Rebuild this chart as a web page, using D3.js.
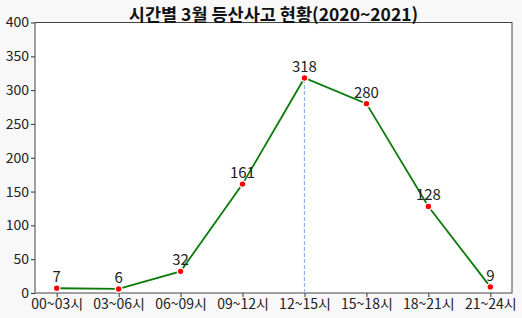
<!DOCTYPE html>
<html>
<head>
<meta charset="utf-8">
<script src="https://cdnjs.cloudflare.com/ajax/libs/d3/7.8.5/d3.min.js"></script>
<style>
  body { margin: 0; background: #f8f8f8; }
  text { font-family: "Noto Sans CJK KR", "Noto Sans", sans-serif; }
</style>
</head>
<body>
<div id="chart"></div>
<script>
var categories = ["00~03시", "03~06시", "06~09시", "09~12시", "12~15시", "15~18시", "18~21시", "21~24시"];
var counts = [7, 6, 32, 161, 318, 280, 128, 9];
var yTicks = [0, 50, 100, 150, 200, 250, 300, 350, 400];
var title = "시간별 3월 등산사고 현황(2020~2021)";
var peakIndex = 4;

var W = 522, H = 318;
var margin = {top: 22.5, right: 10, bottom: 25, left: 35},
	width = W - margin.left - margin.right,
	height = H - margin.top - margin.bottom;

var svg = d3.select("#chart")
	.append("svg")
	.attr("width", W)
	.attr("height", H);

svg.append("rect").attr("width", W).attr("height", H).attr("fill", "#f8f8f8");

var g = svg.append("g").attr("transform", "translate(" + margin.left + "," + margin.top + ")");

g.append("rect").attr("width", width).attr("height", height).attr("fill", "#fff");

var x = d3.scaleLinear()
	.domain([-0.35, categories.length - 1 + 0.35])
	.range([0, width]);

var y = d3.scaleLinear()
	.domain([0, 400])
	.range([height, 0]);

var xAxis = d3.axisBottom(x)
	.tickValues(d3.range(categories.length))
	.tickFormat(function(i) { return categories[i]; })
	.tickSize(4).tickPadding(2);
var yAxis = d3.axisLeft(y).tickValues(yTicks).tickSize(4).tickPadding(2);

var xg = g.append("g").attr("transform", "translate(0," + height + ")").call(xAxis);
var yg = g.append("g").call(yAxis);
[xg, yg].forEach(function(a) {
	a.select(".domain").remove();
	a.selectAll("line").attr("stroke", "#333");
	a.selectAll("text").attr("fill", "#222").style("font-size", "14px");
});

// frame
g.append("rect").attr("width", width).attr("height", height)
	.attr("fill", "none").attr("stroke", "#444").attr("stroke-width", 1);

// dashed line at peak
g.append("line")
	.attr("x1", x(peakIndex)).attr("x2", x(peakIndex))
	.attr("y1", height).attr("y2", y(counts[peakIndex]))
	.attr("stroke", "#8fb1ee").attr("stroke-width", 1.2)
	.attr("stroke-dasharray", "4,2");

var line = d3.line()
	.x(function(d, i) { return x(i); })
	.y(function(d) { return y(d); });

g.append("path")
	.datum(counts)
	.attr("d", line)
	.attr("fill", "none")
	.attr("stroke", "#0a7a0a")
	.attr("stroke-width", 1.8);

g.selectAll(".dot")
	.data(counts)
	.enter().append("circle")
	.attr("class", "dot")
	.attr("cx", function(d, i) { return x(i); })
	.attr("cy", function(d) { return y(d); })
	.attr("r", 3.3)
	.attr("fill", "red")
	.attr("stroke", "#fff")
	.attr("stroke-width", 1.2);

g.selectAll(".lbl")
	.data(counts)
	.enter().append("text")
	.attr("class", "lbl")
	.attr("x", function(d, i) { return x(i); })
	.attr("y", function(d) { return y(d) - 6; })
	.attr("text-anchor", "middle")
	.attr("fill", "#222")
	.style("font-size", "15px")
	.text(function(d) { return d; });

svg.append("text")
	.attr("x", margin.left + width / 2)
	.attr("y", 20.5)
	.attr("text-anchor", "middle")
	.attr("fill", "#111")
	.style("font-size", "17.5px")
	.style("font-weight", "bold")
	.text(title);
</script>
</body>
</html>
